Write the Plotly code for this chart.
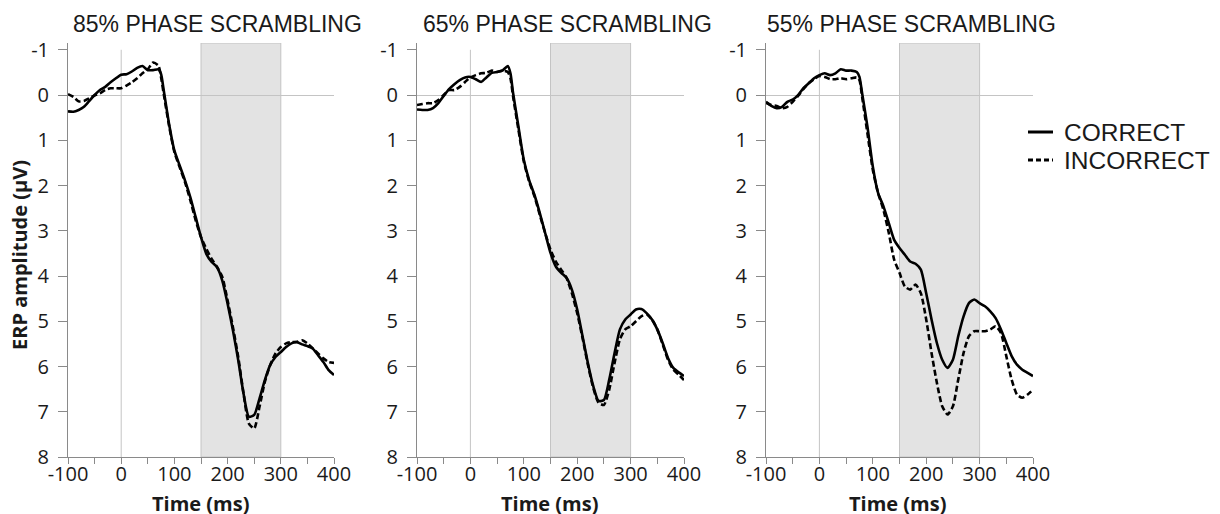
import plotly.graph_objects as go

# ---------------- data ----------------
time_ms = [-100, -90, -80, -70, -60, -50, -40, -30, -20, -10, 0, 10, 20, 30, 40, 50, 60, 70, 75, 80,
           90, 100, 110, 120, 130, 140, 150, 160, 170, 180, 190, 200, 210, 220, 230, 240, 250, 260,
           270, 280, 290, 300, 310, 320, 330, 340, 350, 360, 370, 380, 390, 400]

p85_correct = [0.36, 0.37, 0.33, 0.26, 0.13, 0.0, -0.11, -0.18, -0.28, -0.37, -0.45, -0.46, -0.52, -0.60, -0.64,
               -0.55, -0.55, -0.57, -0.46, -0.10, 0.64, 1.23, 1.56, 1.89, 2.26, 2.70, 3.14, 3.51, 3.69, 3.80,
               4.10, 4.61, 5.20, 5.86, 6.60, 7.11, 7.07, 6.71, 6.30, 5.97, 5.79, 5.68, 5.57, 5.49, 5.46, 5.51,
               5.55, 5.60, 5.75, 5.90, 6.08, 6.19]
p85_incorrect = [-0.02, 0.04, 0.14, 0.13, 0.07, 0.01, -0.04, -0.11, -0.15, -0.15, -0.15, -0.21, -0.28, -0.37, -0.48,
                 -0.57, -0.72, -0.65, -0.39, -0.02, 0.68, 1.26, 1.60, 1.93, 2.33, 2.77, 3.14, 3.40, 3.62, 3.80,
                 4.02, 4.54, 5.13, 5.79, 6.60, 7.26, 7.37, 6.89, 6.34, 5.97, 5.71, 5.57, 5.49, 5.46, 5.46, 5.42,
                 5.49, 5.60, 5.71, 5.82, 5.90, 5.92]

p65_correct = [0.32, 0.33, 0.33, 0.29, 0.18, 0.02, -0.13, -0.24, -0.33, -0.39, -0.40, -0.35, -0.29, -0.39, -0.49,
               -0.51, -0.54, -0.64, -0.48, -0.04, 0.70, 1.43, 1.88, 2.21, 2.61, 3.05, 3.49, 3.79, 3.93, 4.04,
               4.30, 4.74, 5.33, 5.92, 6.43, 6.76, 6.74, 6.29, 5.70, 5.18, 4.96, 4.85, 4.74, 4.73, 4.82, 4.96,
               5.18, 5.48, 5.81, 6.03, 6.13, 6.21]
p65_incorrect = [0.22, 0.20, 0.18, 0.18, 0.11, 0.0, -0.11, -0.11, -0.18, -0.29, -0.39, -0.44, -0.48, -0.49, -0.54,
                 -0.51, -0.54, -0.51, -0.37, 0.04, 0.77, 1.47, 1.91, 2.24, 2.65, 3.05, 3.42, 3.68, 3.86, 4.04,
                 4.38, 4.82, 5.37, 5.96, 6.47, 6.80, 6.85, 6.51, 5.92, 5.40, 5.18, 5.11, 5.00, 4.89, 4.85, 4.96,
                 5.18, 5.51, 5.85, 6.07, 6.18, 6.30]

p55_correct = [0.15, 0.24, 0.29, 0.26, 0.15, 0.10, 0.0, -0.15, -0.26, -0.37, -0.44, -0.48, -0.44, -0.48, -0.57,
               -0.54, -0.54, -0.51, -0.40, -0.04, 0.70, 1.58, 2.17, 2.46, 2.83, 3.20, 3.38, 3.53, 3.68, 3.73,
               3.86, 4.38, 4.96, 5.48, 5.85, 6.03, 5.85, 5.33, 4.89, 4.60, 4.52, 4.60, 4.67, 4.78, 4.93, 5.18,
               5.48, 5.77, 5.96, 6.07, 6.14, 6.21]
p55_incorrect = [0.17, 0.22, 0.24, 0.29, 0.26, 0.15, 0.02, -0.13, -0.26, -0.35, -0.42, -0.40, -0.35, -0.35, -0.37,
                 -0.35, -0.37, -0.39, -0.33, 0.04, 0.85, 1.65, 2.17, 2.54, 3.05, 3.64, 3.93, 4.23, 4.30, 4.19,
                 4.38, 4.96, 5.70, 6.36, 6.88, 7.06, 6.88, 6.29, 5.70, 5.33, 5.22, 5.22, 5.22, 5.18, 5.11, 5.26,
                 5.77, 6.29, 6.62, 6.69, 6.62, 6.51]

panel_titles = ["85% PHASE SCRAMBLING", "65% PHASE SCRAMBLING", "55% PHASE SCRAMBLING"]
series_names = ["CORRECT", "INCORRECT"]
series_dash = ["solid", "6px,3px"]
window_ms = [150, 300]
x_tickvals = [-100, 0, 100, 200, 300, 400]
x_ticktext = ["-100", "0", "100", "200", "300", "400"]
y_tickvals = [-1, 0, 1, 2, 3, 4, 5, 6, 7, 8]
y_ticktext = ["-1", "0", "1", "2", "3", "4", "5", "6", "7", "8"]

panels = [(p85_correct, p85_incorrect), (p65_correct, p65_incorrect), (p55_correct, p55_incorrect)]

# ---------------- layout geometry ----------------
# the page places the figure 8 px from the top-left corner of the window
OFF = 8
W, H = 1220 - OFF, 514 - OFF


def px(xpix):
    return (xpix - OFF) / W


def py(ypix):
    return (H - (ypix - OFF)) / H


x_domains = [(px(68), px(334)), (px(417), px(684)), (px(766), px(1033))]
y_domain = (py(457), py(43))
title_centers = [218, 567, 911]
xtitle_centers = [200, 549, 898]

TICK_FONT = dict(family="Open Sans", size=20, color="#1a1a1a")
TITLE_FONT = dict(family="Liberation Sans", size=23, color="#1a1a1a")
LEGEND_FONT = dict(family="Liberation Sans", size=24.5, color="#1a1a1a")
AXIS_COLOR = "#8a8a8a"
REF_COLOR = "#c4c4c4"

fig = go.Figure()

for i, (corr, inc) in enumerate(panels):
    xa = "x" if i == 0 else f"x{i+1}"
    ya = "y" if i == 0 else f"y{i+1}"
    for vals, name, dash in zip((corr, inc), series_names, series_dash):
        fig.add_trace(go.Scatter(x=time_ms, y=vals, mode="lines", name=name, legendgroup=name,
                                 line=dict(color="black", width=2.6, dash=dash, shape="spline", smoothing=0.6),
                                 xaxis=xa, yaxis=ya, showlegend=False))

    # shaded analysis window
    fig.add_shape(type="rect", xref=xa, yref=ya, x0=window_ms[0], x1=window_ms[1], y0=8, y1=-1.15,
                  fillcolor="#e3e3e3", line=dict(color=REF_COLOR, width=1), layer="below")
    # stimulus onset line
    fig.add_shape(type="line", xref=xa, yref=ya, x0=0, x1=0, y0=-1, y1=8,
                  line=dict(color=REF_COLOR, width=1), layer="below")

    xkey = "xaxis" if i == 0 else f"xaxis{i+1}"
    ykey = "yaxis" if i == 0 else f"yaxis{i+1}"
    fig.layout[xkey] = dict(domain=list(x_domains[i]), anchor=ya, range=[-100, 400], autorange=False,
                            tickvals=x_tickvals, ticktext=x_ticktext, ticks="outside", ticklen=6,
                            tickcolor=AXIS_COLOR, ticklabelstandoff=-7,
                            showline=True, linecolor=AXIS_COLOR, linewidth=1, showgrid=False,
                            zeroline=False, tickfont=TICK_FONT, automargin=False,
                            minor=dict(dtick=50, ticks="outside", ticklen=6, tickcolor=AXIS_COLOR,
                                       showgrid=False))
    fig.layout[ykey] = dict(domain=list(y_domain), anchor=xa, range=[8, -1.15], autorange=False,
                            tickvals=y_tickvals, ticktext=y_ticktext, ticks="outside", ticklen=9,
                            tickcolor=AXIS_COLOR, ticklabelstandoff=5,
                            showline=True, linecolor=AXIS_COLOR, linewidth=1, showgrid=False,
                            zeroline=True, zerolinecolor=REF_COLOR, zerolinewidth=1,
                            tickfont=TICK_FONT, automargin=False)

    fig.add_annotation(text=panel_titles[i], xref="paper", yref="paper",
                       x=px(title_centers[i]), y=py(24), showarrow=False,
                       xanchor="center", yanchor="middle", font=TITLE_FONT)
    fig.add_annotation(text="<b>Time (ms)</b>", xref="paper", yref="paper",
                       x=px(xtitle_centers[i]), y=py(503), showarrow=False,
                       xanchor="center", yanchor="middle",
                       font=dict(family="Open Sans", size=20, color="#1a1a1a"))

fig.add_annotation(text="<b>ERP amplitude (µV)</b>", xref="paper", yref="paper",
                   x=px(20), y=py(255), showarrow=False, textangle=-90,
                   xanchor="center", yanchor="middle",
                   font=dict(family="Open Sans", size=20, color="#1a1a1a"))

# legend (key lines + labels)
legend_rows = [132, 160]
for name, dash, row in zip(series_names, ["solid", "5px,3px"], legend_rows):
    fig.add_shape(type="line", xref="paper", yref="paper", x0=px(1028), x1=px(1053),
                  y0=py(row), y1=py(row), line=dict(color="black", width=3, dash=dash))
    fig.add_annotation(text=name, xref="paper", yref="paper", x=px(1062), y=py(row),
                       xanchor="left", yanchor="middle", showarrow=False, font=LEGEND_FONT)

fig.update_layout(
    width=W, height=H,
    margin=dict(l=0, r=0, t=0, b=0),
    paper_bgcolor="white", plot_bgcolor="white",
    showlegend=False,
)

fig.write_html("out.html")
